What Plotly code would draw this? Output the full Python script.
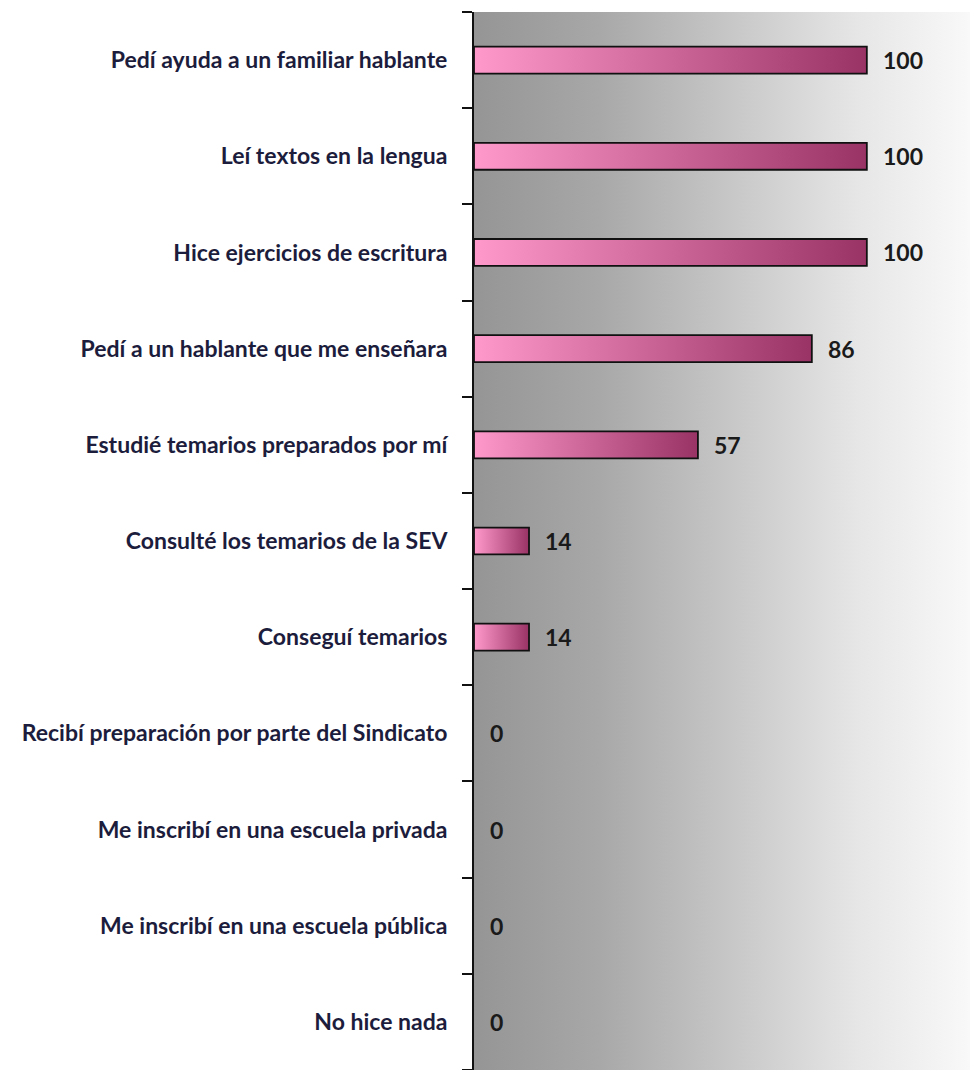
import plotly.graph_objects as go

# categories top to bottom, values in percent
categories = [
    "Pedí ayuda a un familiar hablante",
    "Leí textos en la lengua",
    "Hice ejercicios de escritura",
    "Pedí a un hablante que me enseñara",
    "Estudié temarios preparados por mí",
    "Consulté los temarios de la SEV",
    "Conseguí temarios",
    "Recibí preparación por parte del Sindicato",
    "Me inscribí en una escuela privada",
    "Me inscribí en una escuela pública",
    "No hice nada",
]
values = [100, 100, 100, 86, 57, 14, 14, 0, 0, 0, 0]

X_MAX = 128.3
HALF = 0.14  # half bar thickness, in category units
BAR_SCALE = [[0, "#ff99cc"], [1, "#993366"]]
BG_SCALE = [[0, "#959595"], [0.25, "#a8a8a8"], [0.55, "#cccccc"],
            [0.76, "#e6e6e6"], [1, "#fafafa"]]
LABEL_FONT = dict(family="Lato", size=23, color="#1c1c3c", weight="bold")

fig = go.Figure()

# plot-area background gradient
n = len(categories)
fig.add_trace(go.Scatter(
    x=[0, X_MAX, X_MAX, 0, 0],
    y=[-0.5, -0.5, n - 0.5, n - 0.5, -0.5],
    fill="toself", mode="none",
    fillgradient=dict(type="horizontal", colorscale=BG_SCALE),
    hoverinfo="skip", showlegend=False,
))

# bars: one filled polygon per bar so each gets its own gradient
for i, v in enumerate(values):
    if v <= 0:
        continue
    fig.add_trace(go.Scatter(
        x=[0, v, v, 0, 0],
        y=[i - HALF, i - HALF, i + HALF, i + HALF, i - HALF],
        fill="toself", mode="lines",
        line=dict(color="#111111", width=1.8),
        fillgradient=dict(type="horizontal", colorscale=BAR_SCALE),
        hoverinfo="skip", showlegend=False,
    ))

# value labels
for i, v in enumerate(values):
    fig.add_annotation(
        x=v, y=i, text=str(v), showarrow=False,
        xanchor="left", xshift=14,
        font=dict(family="Lato", size=23, color="#1a1a1a", weight="bold"),
    )

fig.update_layout(
    width=970, height=1062,
    margin=dict(l=466, r=0, t=4, b=0),
    paper_bgcolor="white", plot_bgcolor="white",
    showlegend=False,
    xaxis=dict(range=[0, X_MAX], visible=False, fixedrange=True),
    yaxis=dict(
        range=[n - 0.5, -0.5],
        tickvals=list(range(n)), ticktext=categories,
        tickfont=LABEL_FONT,
        ticks="outside", ticklen=20, tickcolor="rgba(0,0,0,0)",
        showline=True, linecolor="#111111", linewidth=2,
        showgrid=False, zeroline=False,
        minor=dict(
            tickvals=[k - 0.5 for k in range(n + 1)],
            ticks="outside", ticklen=10, tickwidth=2, tickcolor="#111111",
            showgrid=False,
        ),
    ),
)

fig.write_html("out.html")
